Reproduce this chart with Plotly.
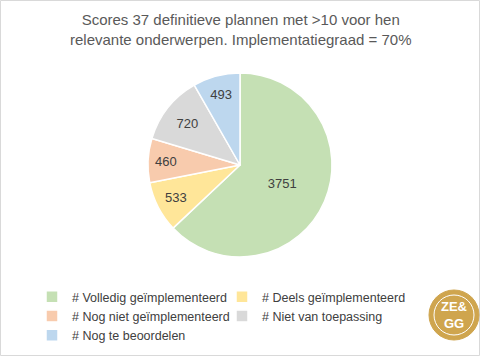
import plotly.graph_objects as go

labels = ["# Volledig geïmplementeerd", "# Deels geïmplementeerd", "# Nog niet geïmplementeerd",
          "# Niet van toepassing", "# Nog te beoordelen"]
values = [3751, 533, 460, 720, 493]
colors = ["#C5E0B4", "#FFE699", "#F8CBAD", "#D9D9D9", "#BDD7EE"]
title_lines = ["Scores 37 definitieve plannen met >10 voor hen",
               "relevante onderwerpen. Implementatiegraad = 70%"]

W, H = 480, 356
cx, cy, r = 240, 165, 92

fig = go.Figure(go.Pie(
    labels=labels, values=values, sort=False, direction="clockwise", rotation=0,
    marker=dict(colors=colors, line=dict(color="white", width=1.5)),
    textinfo="value", textposition="inside", insidetextorientation="horizontal",
    textfont=dict(family="Liberation Sans", size=13, color="#404040"),
    domain=dict(x=[(cx - r) / W, (cx + r) / W], y=[(H - cy - r) / H, (H - cy + r) / H]),
    hoverinfo="label+value",
))

fig.update_layout(
    width=W, height=H, margin=dict(l=0, r=0, t=0, b=0),
    paper_bgcolor="white", plot_bgcolor="white",
    showlegend=True,
    legend=dict(orientation="h", x=32 / W, xanchor="left", y=1 - 282 / H, yanchor="top",
                entrywidth=145, entrywidthmode="pixels", traceorder="normal",
                font=dict(family="Liberation Sans", size=12.5, color="#404040"),
                itemwidth=30, tracegroupgap=0),
    annotations=[
        dict(text="<br>".join(title_lines), x=0.5, y=1 - 9 / H, xref="paper", yref="paper",
             xanchor="center", yanchor="top", showarrow=False,
             font=dict(family="Liberation Sans", size=15, color="#595959")),
        dict(text="<b>ZE&amp;<br>GG</b>", x=454 / W, y=1 - 315 / H, xref="paper", yref="paper",
             xanchor="center", yanchor="middle", showarrow=False,
             font=dict(family="Liberation Sans", size=13, color="white")),
    ],
    shapes=[
        dict(type="rect", xref="paper", yref="paper", x0=0.5 / W, x1=1 - 0.5 / W, y0=0.5 / H, y1=1 - 0.5 / H,
             line=dict(color="#D9D9D9", width=1), layer="below"),
        dict(type="circle", xref="paper", yref="paper",
             x0=(454 - 25) / W, x1=(454 + 25) / W, y0=1 - (315 + 25) / H, y1=1 - (315 - 25) / H,
             fillcolor="#CFA54E", line=dict(color="#CFA54E", width=1), layer="below"),
        dict(type="circle", xref="paper", yref="paper",
             x0=(454 - 20) / W, x1=(454 + 20) / W, y0=1 - (315 + 20) / H, y1=1 - (315 - 20) / H,
             line=dict(color="white", width=1), layer="below"),
    ],
)

fig.write_html("out.html")
